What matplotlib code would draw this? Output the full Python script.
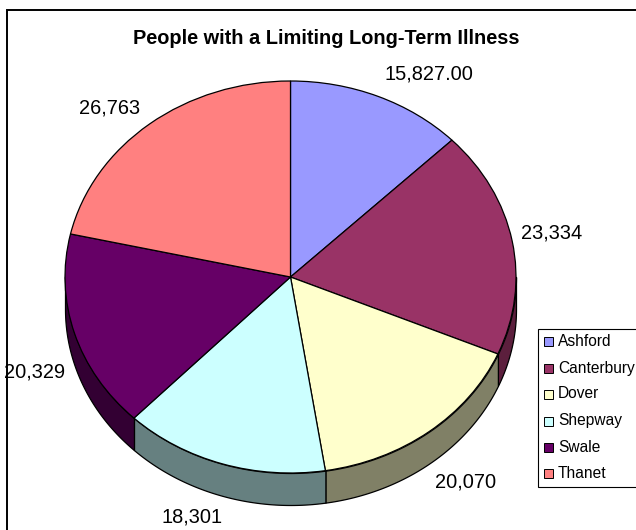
import numpy as np
import matplotlib
matplotlib.use("Agg")
import matplotlib.pyplot as plt
from matplotlib.patches import Rectangle

plt.rcParams['font.family'] = ['Liberation Sans', 'DejaVu Sans']

# data
districts = ["Ashford", "Canterbury", "Dover", "Shepway", "Swale", "Thanet"]
people = [15827, 23334, 20070, 18301, 20329, 26763]
value_labels = ["15,827.00", "23,334", "20,070", "18,301", "20,329", "26,763"]
top_colors = ["#9999FF", "#993366", "#FFFFCC", "#CCFFFF", "#660066", "#FF8080"]
side_colors = ["#5C5C99", "#5C1F3D", "#808066", "#668080", "#330033", "#994D4D"]

W, H = 636, 530
fig = plt.figure(figsize=(W / 100, H / 100), dpi=100, facecolor="white")

def fx(x):
    return x / W

def fy(y):
    return 1 - y / H

# outer frame of the chart area, runs off the right and bottom of the image
fig.add_artist(Rectangle((fx(7), fy(536)), 640 / W, 526 / H, transform=fig.transFigure,
                         fc="white", ec="black", lw=1.4, zorder=-1))

# pie top is a squashed circle, so axes box = ellipse box
ax = fig.add_axes([fx(65), fy(473), 451 / W, 392 / H])
depth = 32 / 196.0

edges = 90 - 360 * np.concatenate([[0], np.cumsum(people)]) / np.sum(people)
for i in range(len(people)):
    # only the front half of the rim shows
    a0, a1 = max(edges[i + 1], -180), min(edges[i], 0)
    if a1 <= a0:
        continue
    t = np.radians(np.linspace(a0, a1, 80))
    ax.fill_between(np.cos(t), np.sin(t), np.sin(t) - depth, color=side_colors[i],
                    ec="black", lw=0.9, clip_on=False, zorder=1)

wedges, _ = ax.pie(people, colors=top_colors, startangle=90, counterclock=False, radius=1,
                   wedgeprops=dict(ec="black", lw=0.9, clip_on=False, zorder=2))
ax.set_aspect("auto")
ax.set_xlim(-1, 1)
ax.set_ylim(-1, 1)
ax.axis("off")

fig.text(fx(326), fy(38), "People with a Limiting Long-Term Illness", fontsize=14.4,
         fontweight="bold", ha="center", va="center")

label_pos = [(429, 74), (552, 233), (466, 482), (192, 517), (35, 372), (110, 108)]
for txt, (x, y) in zip(value_labels, label_pos):
    fig.text(fx(x), fy(y), txt, fontsize=14.4, ha="center", va="center", zorder=5)

# legend box, drawn by hand to sit where the original does
fig.add_artist(Rectangle((fx(538), fy(487)), 100 / W, 158 / H, transform=fig.transFigure,
                         fc="white", ec="black", lw=0.8))
leg_y = [342, 369, 395, 422, 448, 474]
for name, col, y in zip(districts, top_colors, leg_y):
    fig.add_artist(Rectangle((fx(544), fy(y + 4)), 9 / W, 9 / H, transform=fig.transFigure,
                             fc=col, ec="black", lw=0.7))
    fig.text(fx(558), fy(y - 1), name, fontsize=11.2, ha="left", va="center")

fig.savefig("out.png", dpi=100)
